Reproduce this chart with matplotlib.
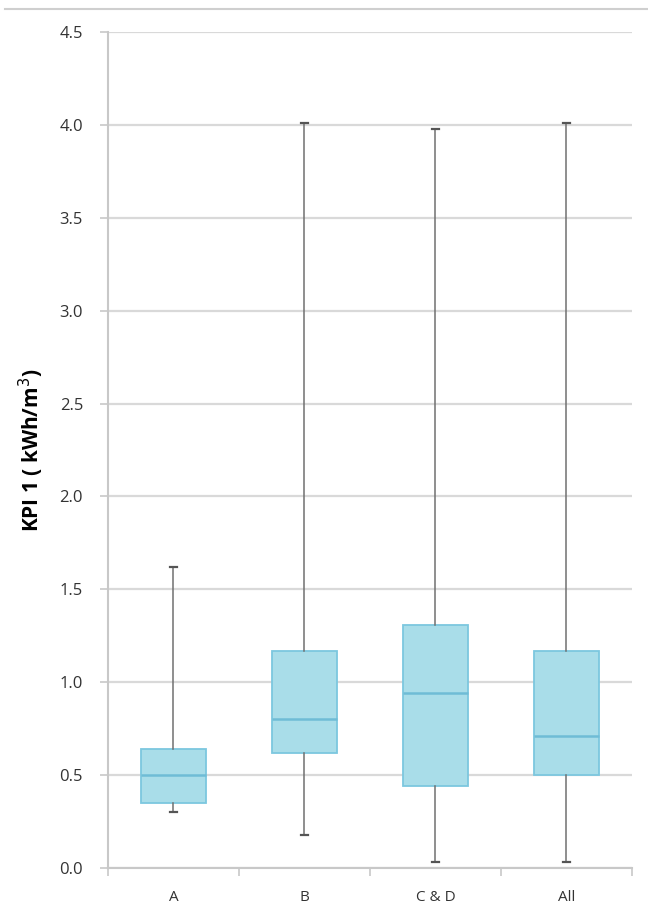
import matplotlib.pyplot as plt
from matplotlib.lines import Line2D
from matplotlib.ticker import FixedLocator, NullFormatter

categories = ["A", "B", "C & D", "All"]
whislo = [0.30, 0.18, 0.03, 0.03]
q1 = [0.35, 0.62, 0.44, 0.50]
med = [0.50, 0.80, 0.94, 0.71]
q3 = [0.64, 1.17, 1.31, 1.17]
whishi = [1.62, 4.01, 3.98, 4.01]

plt.rcParams['font.family'] = ['Open Sans', 'DejaVu Sans']

fig = plt.figure(figsize=(6.48, 9.23), dpi=100)
ax = fig.add_axes([0.1667, 0.0596, 0.8083, 0.9057])

stats = []
for i, name in enumerate(categories):
    stats.append(dict(label=name, whislo=whislo[i], q1=q1[i], med=med[i],
                      q3=q3[i], whishi=whishi[i], fliers=[]))

pos = [0.5 + i for i in range(len(categories))]
ax.bxp(stats, positions=pos, widths=0.5, patch_artist=True, showfliers=False,
       capwidths=0.05,
       boxprops=dict(facecolor='#a9dde9', edgecolor='#7cc7df', linewidth=1.3),
       medianprops=dict(color='#6fbcd6', linewidth=1.8),
       whiskerprops=dict(color='#707070', linewidth=1.1),
       capprops=dict(color='#555555', linewidth=1.6))

ax.set_xlim(0, len(categories))
ax.set_ylim(0, 4.5)
ax.set_yticks([0.5 * k for k in range(10)])
ax.set_yticklabels([f"{0.5 * k:.1f}" for k in range(10)])
ax.yaxis.grid(True, color='#d9d9d9', linewidth=1.6)
ax.set_axisbelow(True)

ax.xaxis.set_major_locator(FixedLocator([0, 1, 2, 3, 4]))
ax.xaxis.set_major_formatter(NullFormatter())
ax.xaxis.set_minor_locator(FixedLocator(pos))
ax.xaxis.set_minor_formatter(plt.FixedFormatter(categories))
ax.tick_params(axis='x', which='minor', length=0, pad=16, labelsize=11,
               labelcolor='#333333')
ax.tick_params(axis='x', which='major', length=6, color='#c8c8c8', width=1.2)
ax.tick_params(axis='y', length=6, color='#c8c8c8', width=1.2, pad=12,
               labelsize=12, labelcolor='#333333')

for s in ['top', 'right']:
    ax.spines[s].set_visible(False)
for s in ['left', 'bottom']:
    ax.spines[s].set_color('#c8c8c8')
    ax.spines[s].set_linewidth(1.5)

ax.set_ylabel("KPI 1 ( kWh/m$^3$)", fontsize=15, fontweight='bold', labelpad=10)

fig.add_artist(Line2D([0.008, 1.0], [0.990, 0.990], color='#cfcfcf',
                      linewidth=1.5, transform=fig.transFigure))

fig.savefig('out.png', dpi=100)
